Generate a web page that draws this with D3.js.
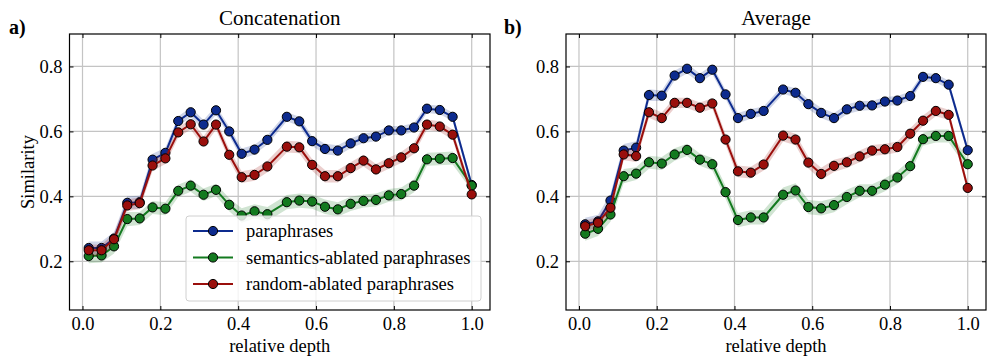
<!DOCTYPE html>
<html>
<head>
<meta charset="utf-8">
<script src="https://cdn.jsdelivr.net/npm/d3@7"></script>
<style>
  body { margin: 0; background: #fff; }
  svg { font-family: "Liberation Serif", "DejaVu Serif", serif; }
</style>
</head>
<body>
<svg id="chart" width="996" height="364"></svg>
<script>
// relative depth of each layer (same for both panels)
const depth = [0.016, 0.049, 0.081, 0.115, 0.147, 0.180, 0.213, 0.246, 0.278, 0.311,
               0.343, 0.377, 0.409, 0.442, 0.475, 0.525, 0.557, 0.590, 0.623, 0.656,
               0.689, 0.722, 0.754, 0.787, 0.819, 0.852, 0.885, 0.918, 0.951, 1.0]

// a) Concatenation
const concatPara = [0.241, 0.241, 0.270, 0.380, 0.382, 0.513, 0.534, 0.632, 0.659, 0.621,
                    0.665, 0.600, 0.531, 0.544, 0.574, 0.645, 0.631, 0.570, 0.546, 0.541,
                    0.563, 0.579, 0.584, 0.603, 0.603, 0.612, 0.670, 0.666, 0.645, 0.435]
const concatSem = [0.216, 0.218, 0.246, 0.330, 0.332, 0.366, 0.362, 0.417, 0.433, 0.405,
                   0.420, 0.374, 0.341, 0.354, 0.345, 0.382, 0.387, 0.384, 0.368, 0.360,
                   0.377, 0.386, 0.389, 0.403, 0.407, 0.433, 0.514, 0.516, 0.518, 0.433]
const concatRand = [0.234, 0.234, 0.268, 0.372, 0.379, 0.495, 0.517, 0.597, 0.622, 0.569,
                    0.621, 0.528, 0.459, 0.466, 0.492, 0.553, 0.551, 0.497, 0.462, 0.462,
                    0.487, 0.510, 0.483, 0.502, 0.520, 0.548, 0.621, 0.615, 0.590, 0.406]

// b) Average
const avgPara = [0.314, 0.323, 0.387, 0.541, 0.550, 0.712, 0.710, 0.772, 0.793, 0.764,
                 0.790, 0.714, 0.641, 0.654, 0.663, 0.729, 0.719, 0.684, 0.657, 0.641,
                 0.668, 0.679, 0.680, 0.692, 0.695, 0.709, 0.768, 0.764, 0.744, 0.542]
const avgSem = [0.285, 0.300, 0.344, 0.462, 0.470, 0.505, 0.501, 0.529, 0.543, 0.513,
                0.499, 0.413, 0.327, 0.335, 0.335, 0.405, 0.418, 0.367, 0.363, 0.373,
                0.398, 0.417, 0.417, 0.436, 0.458, 0.493, 0.576, 0.586, 0.586, 0.499]
const avgRand = [0.308, 0.319, 0.365, 0.529, 0.524, 0.659, 0.641, 0.688, 0.688, 0.673,
                 0.686, 0.575, 0.477, 0.473, 0.498, 0.587, 0.575, 0.504, 0.469, 0.494,
                 0.505, 0.523, 0.541, 0.545, 0.552, 0.593, 0.633, 0.663, 0.651, 0.426]

// half width of the shaded band around each line
const bandPara = [0.020, 0.020, 0.020, 0.020, 0.020, 0.018, 0.016, 0.015, 0.015, 0.014,
                  0.014, 0.014, 0.016, 0.015, 0.014, 0.014, 0.014, 0.015, 0.016, 0.016,
                  0.015, 0.015, 0.014, 0.014, 0.014, 0.014, 0.013, 0.013, 0.013, 0.012]
const bandSem = [0.022, 0.022, 0.022, 0.022, 0.020, 0.020, 0.020, 0.019, 0.019, 0.019,
                 0.019, 0.020, 0.022, 0.022, 0.022, 0.022, 0.022, 0.022, 0.022, 0.022,
                 0.022, 0.020, 0.020, 0.020, 0.020, 0.020, 0.020, 0.020, 0.020, 0.015]
const bandRand = [0.018, 0.018, 0.018, 0.018, 0.018, 0.017, 0.017, 0.016, 0.016, 0.016,
                  0.016, 0.017, 0.018, 0.018, 0.018, 0.018, 0.018, 0.018, 0.019, 0.019,
                  0.018, 0.018, 0.017, 0.017, 0.017, 0.017, 0.016, 0.016, 0.016, 0.014]

const seriesNames = ["paraphrases", "semantics-ablated paraphrases", "random-ablated paraphrases"]
const seriesColors = ["#0d2b8e", "#137a1f", "#9a0f0c"]
const panelTitles = ["Concatenation", "Average"]
const panelTags = ["a)", "b)"]
const xTicks = [0.0, 0.2, 0.4, 0.6, 0.8, 1.0]
const yTicks = [0.2, 0.4, 0.6, 0.8]

let svg = d3.select("#chart")

let panels = [
    {left: 69.5, right: 490, tagX: 9, values: [concatPara, concatSem, concatRand], legend: true},
    {left: 566, right: 986, tagX: 504, values: [avgPara, avgSem, avgRand], legend: false}
]
const bands = [bandPara, bandSem, bandRand]
let plotTop = 34, plotBottom = 310

panels.forEach(function (p, pi) {
    let x = d3.scaleLinear().domain([-0.0334, 1.047]).range([p.left, p.right])
    let y = d3.scaleLinear().domain([0.05, 0.9]).range([plotBottom, plotTop])

    let g = svg.append("g")

    // grid
    g.selectAll(".gx").data(xTicks).enter().append("line")
        .attr("x1", d => x(d)).attr("x2", d => x(d))
        .attr("y1", plotTop).attr("y2", plotBottom)
        .attr("stroke", "#c4c4c4").attr("stroke-width", 1.2)
    g.selectAll(".gy").data(yTicks).enter().append("line")
        .attr("x1", p.left).attr("x2", p.right)
        .attr("y1", d => y(d)).attr("y2", d => y(d))
        .attr("stroke", "#c4c4c4").attr("stroke-width", 1.2)

    // bands, lines, markers
    p.values.forEach(function (vals, si) {
        let pts = depth.map((d, i) => ({x: d, y: vals[i], e: bands[si][i]}))
        let area = d3.area()
            .x(d => x(d.x))
            .y0(d => y(d.y - d.e))
            .y1(d => y(d.y + d.e))
        g.append("path").datum(pts)
            .attr("d", area)
            .attr("fill", seriesColors[si])
            .attr("fill-opacity", 0.2)
        let line = d3.line().x(d => x(d.x)).y(d => y(d.y))
        g.append("path").datum(pts)
            .attr("d", line)
            .attr("fill", "none")
            .attr("stroke", seriesColors[si])
            .attr("stroke-width", 2)
        g.selectAll(".m" + si).data(pts).enter().append("circle")
            .attr("cx", d => x(d.x))
            .attr("cy", d => y(d.y))
            .attr("r", 4.6)
            .attr("fill", seriesColors[si])
            .attr("stroke", "#000")
            .attr("stroke-width", 1)
    })

    // axes, ticks pointing inward on all four sides
    let fmt = d3.format(".1f")
    g.append("g").attr("transform", "translate(0," + plotBottom + ")")
        .call(d3.axisBottom(x).tickValues(xTicks).tickFormat(fmt).tickSizeInner(-4).tickSizeOuter(0).tickPadding(7))
    g.append("g").attr("transform", "translate(0," + plotTop + ")")
        .call(d3.axisTop(x).tickValues(xTicks).tickFormat("").tickSizeInner(-4).tickSizeOuter(0))
    g.append("g").attr("transform", "translate(" + p.left + ",0)")
        .call(d3.axisLeft(y).tickValues(yTicks).tickFormat(fmt).tickSizeInner(-4).tickSizeOuter(0).tickPadding(7))
    g.append("g").attr("transform", "translate(" + p.right + ",0)")
        .call(d3.axisRight(y).tickValues(yTicks).tickFormat("").tickSizeInner(-4).tickSizeOuter(0))
    g.selectAll(".domain").remove()
    g.selectAll(".tick line").attr("stroke", "#000").attr("stroke-width", 1)
    g.selectAll(".tick text")
        .style("font-family", "Liberation Serif")
        .style("font-size", "18.5px")
        .attr("fill", "#000")

    g.append("rect")
        .attr("x", p.left).attr("y", plotTop)
        .attr("width", p.right - p.left).attr("height", plotBottom - plotTop)
        .attr("fill", "none").attr("stroke", "#000").attr("stroke-width", 1.2)

    // labels
    let cx = (p.left + p.right) / 2
    g.append("text").text(panelTitles[pi])
        .attr("x", cx).attr("y", 25)
        .attr("text-anchor", "middle")
        .style("font-size", "21px")
    g.append("text").text(panelTags[pi])
        .attr("x", p.tagX).attr("y", 34)
        .style("font-size", "20px").style("font-weight", "bold")
    g.append("text").text("relative depth")
        .attr("x", cx).attr("y", 352)
        .attr("text-anchor", "middle")
        .style("font-size", "18.5px")
    if (pi === 0) {
        g.append("text").text("Similarity")
            .attr("transform", "translate(34," + (plotTop + plotBottom) / 2 + ") rotate(-90)")
            .attr("text-anchor", "middle")
            .style("font-size", "18.5px")
    }

    // legend
    if (p.legend) {
        let lx = 186, ly = 216
        let lg = g.append("g")
        lg.append("rect")
            .attr("x", lx).attr("y", ly)
            .attr("width", 295).attr("height", 85)
            .attr("rx", 3)
            .attr("fill", "#fff").attr("fill-opacity", 0.8)
            .attr("stroke", "#d0d0d0")
        seriesNames.forEach(function (name, si) {
            let ry = ly + 15 + si * 26.5
            lg.append("line")
                .attr("x1", lx + 7).attr("x2", lx + 47)
                .attr("y1", ry).attr("y2", ry)
                .attr("stroke", seriesColors[si]).attr("stroke-width", 2)
            lg.append("circle")
                .attr("cx", lx + 27).attr("cy", ry).attr("r", 4.6)
                .attr("fill", seriesColors[si]).attr("stroke", "#000")
            lg.append("text").text(name)
                .attr("x", lx + 60).attr("y", ry + 6)
                .style("font-size", "18.5px")
        })
    }
})
</script>
</body>
</html>
